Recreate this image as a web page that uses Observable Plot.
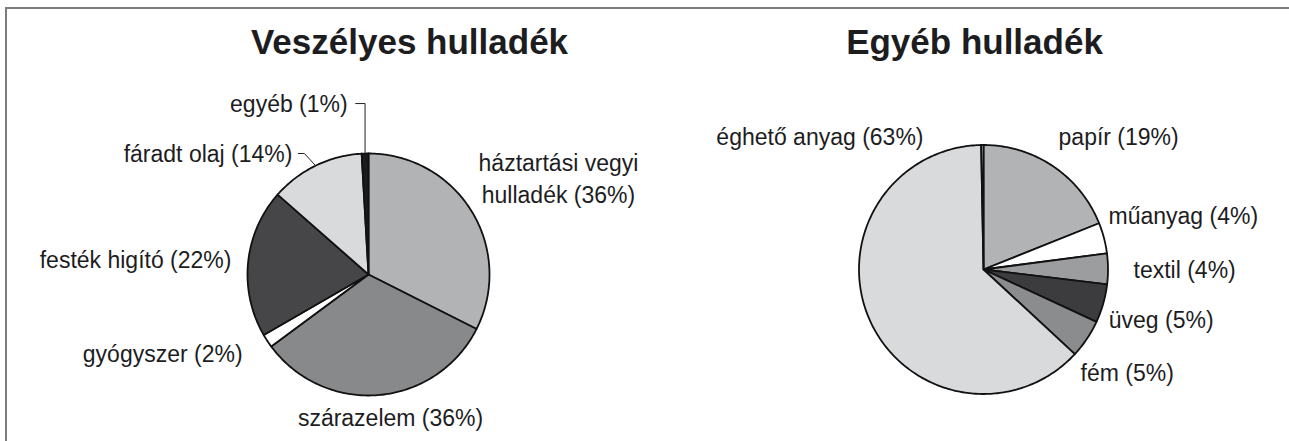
<!DOCTYPE html>
<html><head><meta charset="utf-8">
<script src="https://cdn.jsdelivr.net/npm/d3@7"></script>
<script src="https://cdn.jsdelivr.net/npm/@observablehq/plot@0.6"></script>
<style>
html,body{margin:0;padding:0;background:#fff;}
#wrap{position:relative;width:1289px;height:441px;overflow:hidden;background:#fff;}
#wrap svg{position:absolute;left:0;top:0;background:transparent;}
#frame{position:absolute;left:5px;top:7px;right:-4px;bottom:-4px;border-top:2px solid #7d7d7d;border-left:2px solid #7d7d7d;pointer-events:none;}
</style></head><body><div id="wrap"></div>
<script>
// ---------- data ----------
const leftTitle = "Veszélyes hulladék";
const leftCategories = ["háztartási vegyi hulladék", "szárazelem", "gyógyszer", "festék higító", "fáradt olaj", "egyéb"];
const leftLabels = ["háztartási vegyi\nhulladék (36%)", "szárazelem (36%)", "gyógyszer (2%)", "festék higító (22%)", "fáradt olaj (14%)", "egyéb (1%)"];
const leftValues = [36, 36, 2, 22, 14, 1];

const rightTitle = "Egyéb hulladék";
const rightCategories = ["papír", "műanyag", "textil", "üveg", "fém", "éghető anyag", ""];
const rightLabels = ["papír (19%)", "műanyag (4%)", "textil (4%)", "üveg (5%)", "fém (5%)", "éghető anyag (63%)", ""];
const rightValues = [19, 4, 4, 5, 5, 63, 0.3];

// ---------- styles / layout ----------
const leftFills = ["#b2b3b5", "#88898b", "#ffffff", "#464649", "#d9dadc", "#1c1c1e"];
const rightFills = ["#b2b3b5", "#ffffff", "#9c9d9f", "#3c3c3f", "#8b8c8e", "#d9dadc", "#d9dadc"];
const W = 1289, H = 441;
const leftPie = {cx: 368, cy: 274, r: 121};
const rightPie = {cx: 983, cy: 269, r: 124.5};
const labelGap = 14;
// per-label anchor and nudges (pixels) relative to the radial anchor point
const leftLabelLayout = [
  {anchor: "middle", dx: 75, dy: -1},
  {anchor: "middle", dx: 10.6, dy: 16.5},
  {anchor: "end", dx: -13, dy: 13},
  {anchor: "end", dx: -2.7, dy: 6.4},
  {anchor: "end", dx: -17, dy: 8.4, leader: "elbow"},
  {anchor: "end", dx: -17, dy: -28, leader: "vertical"}
];
const rightLabelLayout = [
  {anchor: "start", dx: -2.6, dy: -10.3},
  {anchor: "start", dx: -9, dy: -11},
  {anchor: "start", dx: 11.5, dy: 8.7},
  {anchor: "start", dx: -8, dy: 21},
  {anchor: "start", dx: -18, dy: 34},
  {anchor: "end", dx: 66.4, dy: -181.5},
  null
];
const titles = [
  {text: leftTitle, x: 409, y: 53},
  {text: rightTitle, x: 974, y: 53}
];
const FONT = "'Liberation Sans', Arial, Helvetica, sans-serif";
const LABEL_SIZE = 23;
const TEXT_COLOR = "#1d1d1f";

// ---------- geometry ----------
function buildPie(values, labels, fills, layout, g) {
  const arcs = d3.pie().sort(null).value(d => d)(values);
  const slices = [], texts = [], leaders = [];
  arcs.forEach((p, i) => {
    const a0 = p.startAngle, a1 = p.endAngle;
    const n = Math.max(2, Math.ceil((a1 - a0) / (Math.PI / 180)));
    const ring = [[g.cx, g.cy]];
    for (let k = 0; k <= n; k++) {
      const a = a0 + (a1 - a0) * k / n;
      ring.push([g.cx + g.r * Math.sin(a), g.cy - g.r * Math.cos(a)]);
    }
    ring.push([g.cx, g.cy]);
    slices.push({type: "Feature", properties: {fill: fills[i]}, geometry: {type: "Polygon", coordinates: [ring]}});
    const L = layout[i];
    if (!L || !labels[i]) return;
    const mid = (a0 + a1) / 2;
    const R = g.r + labelGap;
    const x = g.cx + R * Math.sin(mid) + L.dx;
    const y = g.cy - R * Math.cos(mid) + L.dy;
    texts.push({x, y, text: labels[i], anchor: L.anchor});
    const ax = g.cx + g.r * Math.sin(mid), ay = g.cy - g.r * Math.cos(mid);
    const ty = y - 8;
    if (L.leader === "vertical") {
      leaders.push({type: "Feature", geometry: {type: "LineString", coordinates: [[x + 8, ty], [ax, ty], [ax, ay]]}});
    } else if (L.leader === "elbow") {
      leaders.push({type: "Feature", geometry: {type: "LineString", coordinates: [[x + 6, ty], [x + 12, ty], [ax, ay]]}});
    }
  });
  return {slices, texts, leaders};
}

const left = buildPie(leftValues, leftLabels, leftFills, leftLabelLayout, leftPie);
const right = buildPie(rightValues, rightLabels, rightFills, rightLabelLayout, rightPie);
const allSlices = [...left.slices, ...right.slices];
const allTexts = [...left.texts, ...right.texts];
const allLeaders = [...left.leaders, ...right.leaders];

const textMarks = ["start", "middle", "end"].map(anchor =>
  Plot.text(allTexts.filter(d => d.anchor === anchor), {
    x: "x", y: "y", text: "text", textAnchor: anchor, lineAnchor: "bottom",
    lineHeight: 1.39, fontSize: LABEL_SIZE, fontFamily: FONT, fill: TEXT_COLOR
  })
);

const chart = Plot.plot({
  width: W, height: H,
  margin: 0,
  projection: "identity",
  style: {background: "transparent", fontFamily: FONT},
  marks: [
    Plot.geo(allSlices, {fill: d => d.properties.fill, stroke: "#111", strokeWidth: 1.8, strokeLinejoin: "round"}),
    Plot.geo(allLeaders, {fill: "none", stroke: "#222", strokeWidth: 1}),
    ...textMarks,
    Plot.text(titles, {x: "x", y: "y", text: "text", textAnchor: "middle", lineAnchor: "bottom",
      fontSize: 35, fontWeight: "bold", fontFamily: FONT, fill: TEXT_COLOR})
  ]
});
const wrap = document.getElementById("wrap");
wrap.appendChild(chart);
const frame = document.createElement("div");
frame.id = "frame";
wrap.appendChild(frame);
</script>
</body></html>
